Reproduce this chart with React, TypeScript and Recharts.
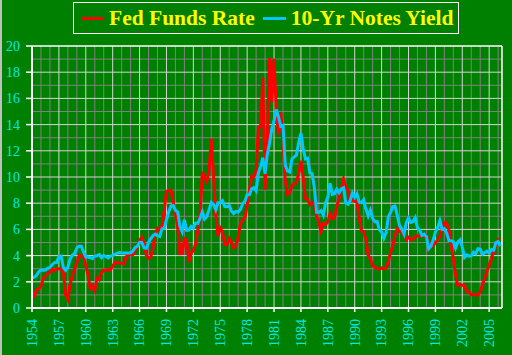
import React from 'react';
import { LineChart, Line, XAxis, YAxis, ReferenceLine } from 'recharts';

// quarterly samples, first one is Jul 1954
const startYear = 1954.5;
const step = 0.25;

const fedFunds = [
  0.8, 0.85,
  1.39, 1.43, 1.68, 2.24,
  2.45, 2.62, 2.75, 2.96,
  2.84, 3.0, 2.99, 2.96,
  2.72, 1.0, 0.65, 1.8,
  2.48, 2.96, 3.47, 3.98,
  3.99, 3.92, 3.23, 2.47,
  1.45, 1.62, 1.31, 2.28,
  2.15, 2.69, 2.88, 2.9,
  2.92, 2.9, 3.22, 3.45,
  3.48, 3.43, 3.42, 3.36,
  3.9, 4.05, 4.08, 4.07,
  4.42, 4.67, 5.17, 5.4,
  4.94, 4.05, 3.79, 3.88,
  4.61, 5.66, 6.07, 5.92,
  6.3, 7.41, 8.9, 8.97,
  8.98, 8.1, 7.21, 6.2,
  4.14, 4.15, 5.31, 5.2,
  3.5, 4.17, 4.4, 4.87,
  5.94, 7.12, 10.4, 10.01,
  9.65, 10.51, 12.92, 10.06,
  7.13, 5.49, 6.1, 5.82,
  4.87, 4.82, 5.31, 5.03,
  4.61, 4.73, 5.42, 6.47,
  6.7, 6.9, 7.81, 8.96,
  10.07, 10.01, 10.47, 13.77,
  13.82, 17.61, 9.03, 12.81,
  19.08, 15.72, 19.04, 15.08,
  13.22, 14.94, 12.59, 9.71,
  8.68, 8.8, 9.37, 9.48,
  9.56, 10.29, 11.23, 9.99,
  8.35, 8.27, 7.87, 7.99,
  8.14, 6.99, 6.56, 5.85,
  6.43, 6.38, 6.58, 7.22,
  6.83, 6.87, 7.75, 8.3,
  9.12, 9.84, 9.24, 8.99,
  8.23, 8.26, 8.15, 8.11,
  6.91, 5.91, 5.82, 5.21,
  4.03, 3.73, 3.25, 3.1,
  3.02, 2.96, 3.06, 2.99,
  3.05, 3.56, 4.26, 4.76,
  5.53, 6.05, 5.85, 5.76,
  5.56, 5.22, 5.4, 5.24,
  5.25, 5.45, 5.51, 5.5,
  5.56, 5.45, 5.54, 5.07,
  4.63, 4.74, 4.99, 5.2,
  5.45, 6.02, 6.54, 6.51,
  5.98, 4.8, 3.77, 2.49,
  1.73, 1.75, 1.73, 1.75,
  1.24, 1.26, 1.01, 1.01,
  1.0, 1.0, 1.26, 1.76,
  2.28, 2.79, 3.26, 3.78,
  4.29, 4.79, 5.24, 5.25,
];

const tenYear = [
  2.3, 2.36,
  2.48, 2.77, 2.9, 2.88,
  2.9, 3.03, 3.11, 3.3,
  3.46, 3.48, 3.93, 3.97,
  3.09, 2.88, 3.11, 3.75,
  4.02, 4.16, 4.58, 4.72,
  4.72, 4.28, 3.9, 3.89,
  3.84, 3.78, 3.97, 3.98,
  4.08, 3.84, 4.01, 3.93,
  3.83, 3.97, 4.02, 4.12,
  4.17, 4.23, 4.2, 4.19,
  4.19, 4.2, 4.2, 4.35,
  4.61, 4.72, 5.02, 5.01,
  4.58, 4.55, 5.01, 5.3,
  5.53, 5.64, 5.5, 5.46,
  6.04, 6.08, 6.72, 7.33,
  7.79, 7.83, 7.46, 7.33,
  6.24, 5.83, 6.73, 5.93,
  5.95, 6.23, 6.11, 6.48,
  6.46, 6.85, 7.33, 6.79,
  6.99, 7.51, 8.05, 7.9,
  7.5, 8.04, 8.06, 8.19,
  7.74, 7.73, 7.83, 7.41,
  7.21, 7.37, 7.33, 7.52,
  7.96, 8.15, 8.64, 8.64,
  9.1, 9.18, 8.95, 10.3,
  10.8, 11.47, 10.25, 11.75,
  12.57, 13.68, 14.28, 15.15,
  14.59, 13.87, 13.95, 10.91,
  10.46, 10.38, 11.38, 11.54,
  11.67, 12.63, 13.36, 12.16,
  11.38, 11.43, 10.31, 10.24,
  9.19, 7.3, 7.3, 7.43,
  7.08, 8.02, 8.45, 9.52,
  8.67, 8.72, 9.06, 8.8,
  9.09, 9.18, 8.02, 7.91,
  8.21, 8.79, 8.47, 8.72,
  8.09, 8.04, 8.27, 7.53,
  7.03, 7.48, 6.84, 6.59,
  6.6, 5.97, 5.81, 5.33,
  5.75, 6.97, 7.3, 7.74,
  7.78, 7.06, 6.28, 6.04,
  5.65, 6.51, 6.87, 6.53,
  6.58, 6.89, 6.12, 5.93,
  5.54, 5.64, 5.46, 4.53,
  4.72, 5.18, 5.79, 6.11,
  6.66, 6.0, 6.05, 5.74,
  5.16, 5.14, 5.06, 4.57,
  5.04, 5.21, 4.65, 3.87,
  4.05, 3.96, 3.98, 4.27,
  4.15, 4.53, 4.5, 4.1,
  4.22, 4.34, 4.18, 4.46,
  4.42, 5.0, 5.08, 4.73,
];

const xMajor = [1954.5, 1957.5, 1960.5, 1963.5, 1966.5, 1969.5, 1972.5, 1975.5, 1978.5, 1981.5, 1984.5, 1987.5, 1990.5, 1993.5, 1996.5, 1999.5, 2002.5, 2005.5];
const xMinor = [1955.5, 1956.5, 1958.5, 1959.5, 1961.5, 1962.5, 1964.5, 1965.5, 1967.5, 1968.5, 1970.5, 1971.5, 1973.5, 1974.5, 1976.5, 1977.5, 1979.5, 1980.5, 1982.5, 1983.5, 1985.5, 1986.5, 1988.5, 1989.5, 1991.5, 1992.5, 1994.5, 1995.5, 1997.5, 1998.5, 2000.5, 2001.5, 2003.5, 2004.5, 2006.5];
const yMajor = [0, 2, 4, 6, 8, 10, 12, 14, 16, 18, 20];
const yMinor = [1, 3, 5, 7, 9, 11, 13, 15, 17, 19];
const xEnd = 2006.93;

const data = fedFunds.map((v, i) => ({ t: startYear + i * step, fed: v, tenYr: tenYear[i] }));

const BG = '#008000';
const LABEL = '#00e8e8';
const SERIF = '"Liberation Serif", "Times New Roman", serif';

const XTick = (props: any) => {
  const { x, y, payload } = props;
  return (
    <text
      x={x}
      y={y}
      transform={`rotate(-90 ${x} ${y})`}
      textAnchor="end"
      dy="0.35em"
      fill={LABEL}
      fontSize={14}
      fontFamily={SERIF}
    >
      {Math.floor(payload.value)}
    </text>
  );
};

const LegendItem = ({ color, label }: { color: string; label: string }) => (
  <div style={{ display: 'flex', alignItems: 'center' }}>
    <div style={{ width: 23, height: 3, background: color, marginRight: 5 }} />
    <span>{label}</span>
  </div>
);

export default function App() {
  return (
    <div style={{ position: 'absolute', left: 0, top: 0, width: 512, height: 355, background: BG, borderLeft: '2px solid #c0c0c0', boxSizing: 'border-box' }}>
      <div
        style={{
          position: 'absolute', left: 71, top: 2, width: 386, height: 32, boxSizing: 'border-box',
          border: '1px solid #ffffff', display: 'flex', alignItems: 'center', gap: 8, paddingLeft: 7,
          color: '#ffff00', fontFamily: SERIF, fontWeight: 'bold', fontSize: 21.5, whiteSpace: 'nowrap',
        }}
      >
        <LegendItem color="#ff0000" label="Fed Funds Rate" />
        <LegendItem color="#00c8ff" label="10-Yr Notes Yield" />
      </div>
      <div style={{ position: 'absolute', left: -2, top: 0 }}>
        <LineChart width={512} height={355} data={data} margin={{ top: 46, right: 10, bottom: 7, left: 0 }}>
          {xMinor.map((v) => (
            <ReferenceLine key={'xm' + v} x={v} stroke="#808080" strokeWidth={1} />
          ))}
          {yMinor.map((v) => (
            <ReferenceLine key={'ym' + v} y={v} stroke="#808080" strokeWidth={1} />
          ))}
          {xMajor.slice(1).map((v) => (
            <ReferenceLine key={'xM' + v} x={v} stroke="#d4d4d4" strokeWidth={1} />
          ))}
          {yMajor.slice(1, -1).map((v) => (
            <ReferenceLine key={'yM' + v} y={v} stroke="#d4d4d4" strokeWidth={1} />
          ))}
          <ReferenceLine y={20} stroke="#ffffff" strokeWidth={1.5} />
          <ReferenceLine x={xEnd} stroke="#ffffff" strokeWidth={1.5} />
          <XAxis
            dataKey="t"
            type="number"
            domain={[startYear, xEnd]}
            ticks={xMajor}
            interval={0}
            allowDataOverflow
            height={40}
            tickSize={4}
            tickMargin={7}
            tickLine={{ stroke: '#ffffff', strokeWidth: 1.5 }}
            axisLine={{ stroke: '#ffffff', strokeWidth: 2 }}
            tick={<XTick />}
          />
          <YAxis
            domain={[0, 20]}
            ticks={yMajor}
            interval={0}
            width={32}
            tickSize={6}
            tickMargin={6}
            tickLine={{ stroke: '#ffffff', strokeWidth: 1.5 }}
            axisLine={{ stroke: '#ffffff', strokeWidth: 2 }}
            tick={{ fill: LABEL, fontSize: 14, fontFamily: SERIF }}
          />
          <Line type="linear" dataKey="fed" stroke="#ff0000" strokeWidth={3} dot={false} isAnimationActive={false} />
          <Line type="linear" dataKey="tenYr" stroke="#00c8ff" strokeWidth={3} dot={false} isAnimationActive={false} />
        </LineChart>
      </div>
    </div>
  );
}
